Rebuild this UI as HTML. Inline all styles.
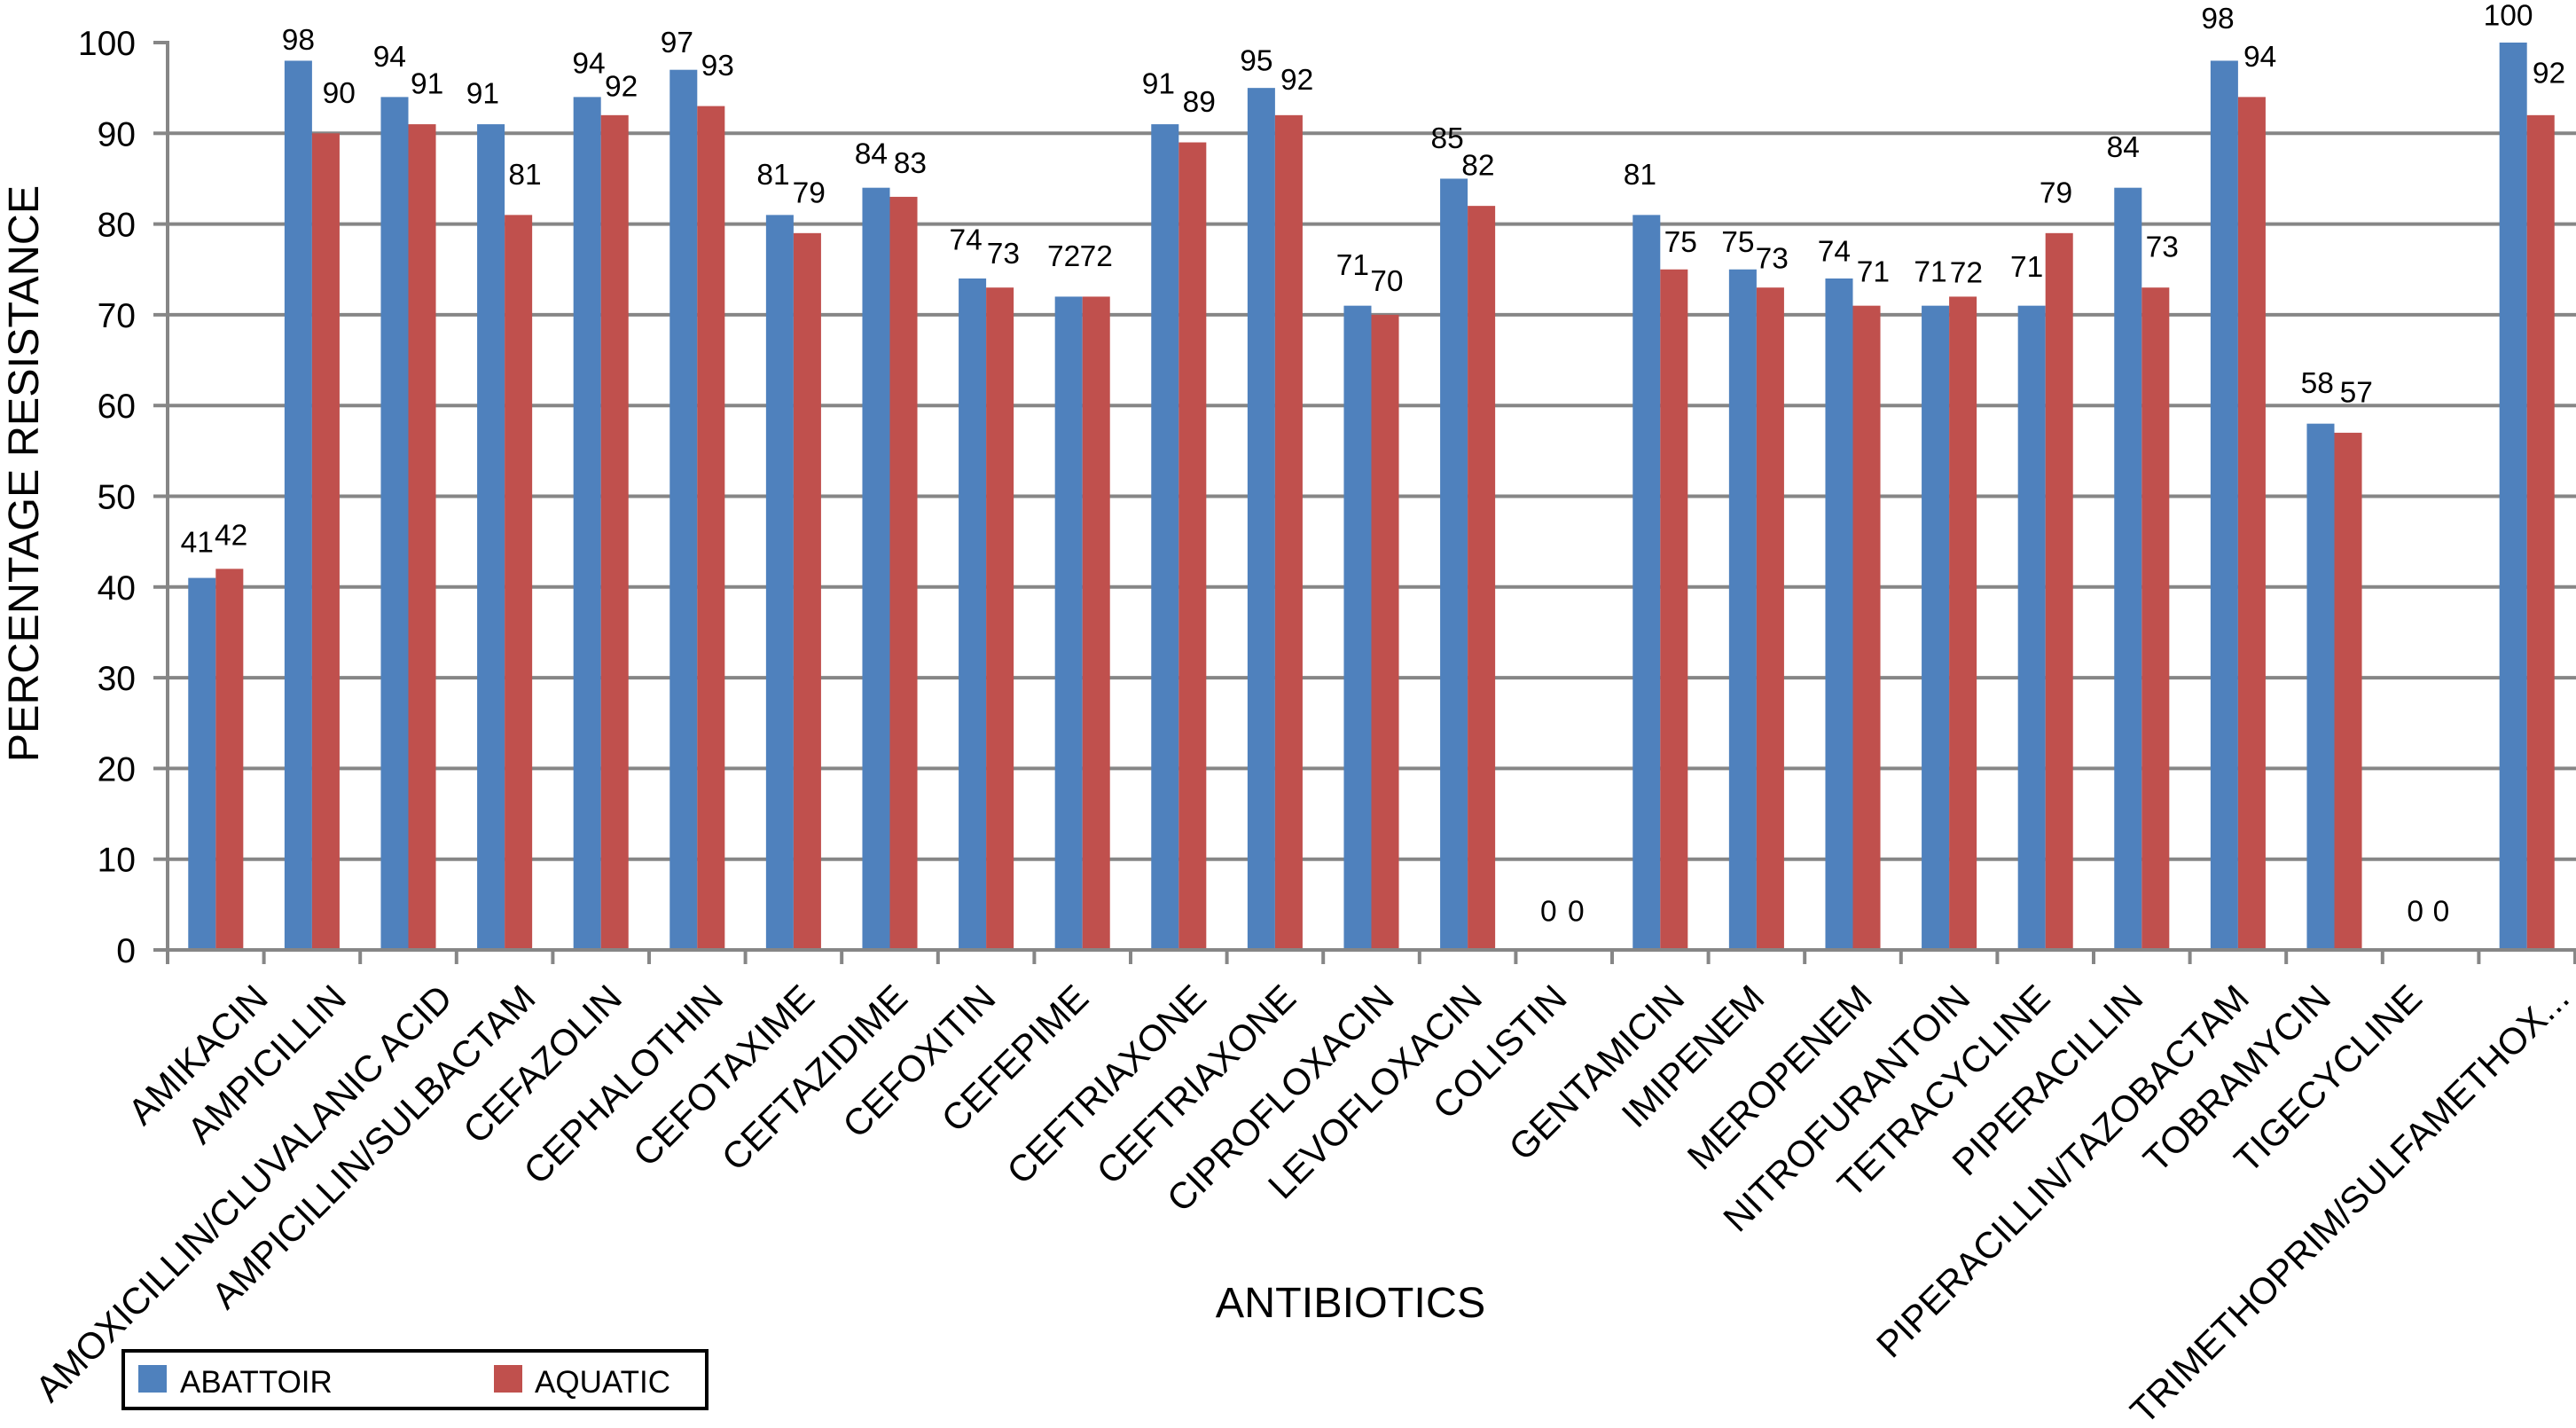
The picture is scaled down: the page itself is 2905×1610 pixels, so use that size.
<!DOCTYPE html>
<html>
<head>
<meta charset="utf-8">
<style>
html,body{margin:0;padding:0;background:#fff;}
svg{display:block;font-family:"Liberation Sans",Arial,sans-serif;}
</style>
</head>
<body>
<svg id="chart" xmlns="http://www.w3.org/2000/svg" width="2905" height="1610" viewBox="0 0 2905 1610">
  <rect x="0" y="0" width="2905" height="1610" fill="#ffffff"/>
  <g id="grid"></g>
  <g id="bars"></g>
  <g id="axes"></g>
  <g id="values"></g>
  <g id="cats"></g>
  <text transform="translate(43,534) rotate(-90)" text-anchor="middle" font-size="48.5" fill="#000">PERCENTAGE RESISTANCE</text>
  <text x="1523" y="1485" text-anchor="middle" font-size="48.5" fill="#000">ANTIBIOTICS</text>
  <g>
    <rect x="139" y="1523" width="658" height="65" fill="#fff" stroke="#000" stroke-width="4"/>
    <rect x="156" y="1539" width="32" height="31" fill="#4f81bd"/>
    <text x="203" y="1570" font-size="35" fill="#000">ABATTOIR</text>
    <rect x="557" y="1539" width="32" height="31" fill="#c0504d"/>
    <text x="603" y="1570" font-size="35" fill="#000">AQUATIC</text>
  </g>
</svg>
<script>
const categories = ["AMIKACIN","AMPICILLIN","AMOXICILLIN/CLUVALANIC ACID","AMPICILLIN/SULBACTAM","CEFAZOLIN","CEPHALOTHIN","CEFOTAXIME","CEFTAZIDIME","CEFOXITIN","CEFEPIME","CEFTRIAXONE","CEFTRIAXONE","CIPROFLOXACIN","LEVOFLOXACIN","COLISTIN","GENTAMICIN","IMIPENEM","MEROPENEM","NITROFURANTOIN","TETRACYCLINE","PIPERACILLIN","PIPERACILLIN/TAZOBACTAM","TOBRAMYCIN","TIGECYCLINE","TRIMETHOPRIM/SULFAMETHOX..."];
const abattoirValues = [41,98,94,91,94,97,81,84,74,72,91,95,71,85,0,81,75,74,71,71,84,98,58,0,100];
const aquaticValues = [42,90,91,81,92,93,79,83,73,72,89,92,70,82,0,75,73,71,72,79,73,94,57,0,92];
const yTickValues = [0,10,20,30,40,50,60,70,80,90,100];

/* Layout constants and hand-placement offsets of the labels (not data). */
const PLOT = {left:189, right:2904, y0:1071, y100:48};
const LAYOUT_UNIT = 1.853;
const blueLabelDx = [-3,0,-3,-5,1,-4,-4,-3,-4,-3,-4,-3,-3,-4,-1,-4,-3,-3,-3,-3,-3,-4,-2,-1,-3];
const blueLabelDy = [-21,-12,-24,-18,-20,-16,-24,-20,-23,-24,-24,-16,-24,-24,-23,-24,-16,-16,-20,-23,-24,-25,-24,-23,-16];
const redLabelDx = [1,8,3,4,4,4,1,4,2,0,4,5,1,-2,-1,4,1,4,2,-2,4,5,5,-2,5];
const redLabelDy = [-20,-24,-24,-24,-17,-24,-24,-20,-20,-24,-24,-21,-20,-24,-23,-16,-17,-20,-14,-24,-24,-24,-24,-23,-25];
const catEndDx = [33,22,28,20,14,17,14,12,7,5,18,14,15,10,3,16,6,13,14,4,2,8,-1,-4,27];

const NS = "http://www.w3.org/2000/svg";
const AXIS = "#868686";
function yScale(v){ return PLOT.y0 - (v/100)*(PLOT.y0-PLOT.y100); }
function bandWidth(){ return (PLOT.right-PLOT.left)/categories.length; }
function xCenter(i){ return PLOT.left + bandWidth()*(i+0.5); }
function barWidth(){ return bandWidth()/3.5; }
function mk(tag, parentId, attrs, txt){
  const el = document.createElementNS(NS, tag);
  for (const k in attrs) el.setAttribute(k, attrs[k]);
  if (txt !== undefined) el.textContent = txt;
  document.getElementById(parentId).appendChild(el);
  return el;
}

/* gridlines (none at the top value) */
yTickValues.forEach(function(v){
  if (v === 0 || v === 100) return;
  const el = mk("line","grid",{x1:PLOT.left,x2:2905,y1:yScale(v),y2:yScale(v),stroke:AXIS,"stroke-width":4});
  
  
});

/* bars */
categories.forEach(function(c,i){
  const w = barWidth();
  const a = mk("rect","bars",{x:xCenter(i)-w,y:yScale(abattoirValues[i]),width:w,height:PLOT.y0-yScale(abattoirValues[i]),fill:"#4f81bd"});
  
  
  const b = mk("rect","bars",{x:xCenter(i),y:yScale(aquaticValues[i]),width:w,height:PLOT.y0-yScale(aquaticValues[i]),fill:"#c0504d"});
  
  
});

/* axes and ticks */
const yAxis = mk("line","axes",{x1:PLOT.left,x2:PLOT.left,y1:PLOT.y100-2,y2:PLOT.y0+2,stroke:AXIS,"stroke-width":4});


const xAxis = mk("line","axes",{x1:PLOT.left-15,x2:2905,y1:PLOT.y0,y2:PLOT.y0,stroke:AXIS,"stroke-width":4});


yTickValues.forEach(function(v){
  const t = mk("line","axes",{x1:PLOT.left-16,x2:PLOT.left,y1:yScale(v),y2:yScale(v),stroke:AXIS,"stroke-width":4});
  
  
  const l = mk("text","axes",{x:153,y:yScale(v)+14,"text-anchor":"end","font-size":39,fill:"#000"},String(v));
  
  
});
for (let i = 0; i <= categories.length; i++){
  const x = PLOT.left + bandWidth()*i;
  const t = mk("line","axes",{x1:x,x2:x,y1:PLOT.y0,y2:PLOT.y0+16,stroke:AXIS,"stroke-width":4});
  
  
}

/* value labels */
function valueLabel(i, value, dir, dx, dy, name){
  const w = barWidth();
  const cx = xCenter(i) + dir*w/2 + dx*LAYOUT_UNIT;
  const cy = yScale(value) + dy*LAYOUT_UNIT;
  const el = mk("text","values",{x:cx,y:cy+10,"text-anchor":"middle","font-size":33.5,fill:"#000"},String(value));
  
  
}
categories.forEach(function(c,i){
  valueLabel(i, abattoirValues[i], -1, blueLabelDx[i], blueLabelDy[i], 'value-label-abattoir');
  valueLabel(i, aquaticValues[i], 1, redLabelDx[i], redLabelDy[i], 'value-label-aquatic');
});

/* category labels */
categories.forEach(function(c,i){
  const ex = xCenter(i) + catEndDx[i]*LAYOUT_UNIT;
  const ey = 1128;
  const el = mk("text","cats",{transform:"translate("+ex+","+ey+") rotate(-45)","text-anchor":"end","font-size":41.7,fill:"#000"},c);
  
  
});
</script>
</body>
</html>
